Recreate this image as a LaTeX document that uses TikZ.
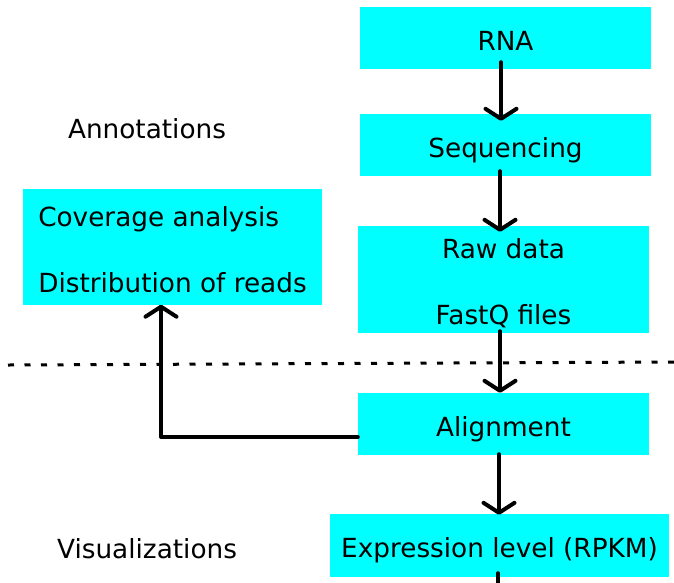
\documentclass[tikz,border=0pt]{standalone}
\usepackage{fontspec}
\setmainfont{DejaVu Sans}
\usetikzlibrary{arrows.meta}

\definecolor{color1}{RGB}{0,255,255}
\definecolor{color2}{RGB}{0,0,0}

\tikzset{
	procbox/.style={fill=color1, inner sep=0pt, font=\fontsize{26.3}{66}\selectfont},
	onebox/.style={procbox, text height=24pt, text depth=0pt},
	sidetext/.style={inner sep=0pt, font=\fontsize{26.3}{31}\selectfont},
	flow/.style={draw=color2, line width=4pt, line cap=round, line join=round, -{Straight Barb[length=10pt,width=31pt,line cap=round,line join=round]}},
}

\begin{document}
\begin{tikzpicture}[x=1pt, y=-1pt]
	\useasboundingbox (0,0) rectangle (674,582);
	% 1 node layouts
	\node[onebox, minimum width=291pt, minimum height=62pt] (n1) at (505.5,38) {RNA};
	\node[onebox, minimum width=291pt, minimum height=62pt] (n2) at (505.5,145) {Sequencing};
	\node[procbox, minimum width=291pt, minimum height=107pt, align=center, text height=90pt, text depth=0pt] (n3) at (503.5,279.5) {Raw data\\FastQ files};
	\node[onebox, minimum width=291pt, minimum height=62pt] (n4) at (503.5,424) {Alignment};
	\node[onebox, minimum width=339pt, minimum height=63pt] (n5) at (499.5,545.5) {Expression level (RPKM)};
	\node[procbox, minimum width=299pt, minimum height=116pt, align=left, text height=92pt, text depth=0pt] (n6) at (172.5,246.5) {Coverage analysis\\Distribution of reads};
	\node[sidetext] (n7) at (147,129) {Annotations};
	\node[sidetext] (n8) at (147,549) {Visualizations};
	\coordinate (c1) at (498,590);
	% dotted divider
	\draw[color=color2, line width=3pt, dash pattern=on 6pt off 10.5pt] (8,365) -- (674,362);
	\draw[flow] ([xshift=-4.5pt, yshift=7pt]n1.south) -- ([xshift=-4.5pt, yshift=-7pt]n2.north);
	\draw[flow] ([xshift=-5.5pt, yshift=5pt]n2.south) -- ([xshift=-3.5pt, yshift=-6pt]n3.north);
	\draw[flow] ([xshift=-3.5pt, yshift=2pt]n3.south) -- ([xshift=-3.5pt]n4.north);
	\draw[flow] ([xshift=-4.5pt, yshift=1pt]n4.south) -- ([xshift=-0.5pt, yshift=-1pt]n5.north);
	\draw[color=color2, line width=4pt, line cap=round] ([xshift=-1.5pt, yshift=4pt]n5.south) -- (c1);
	\draw[flow] ([yshift=-13pt]n4.west) -| ([xshift=-11.5pt]n6.south);
\end{tikzpicture}
\end{document}
